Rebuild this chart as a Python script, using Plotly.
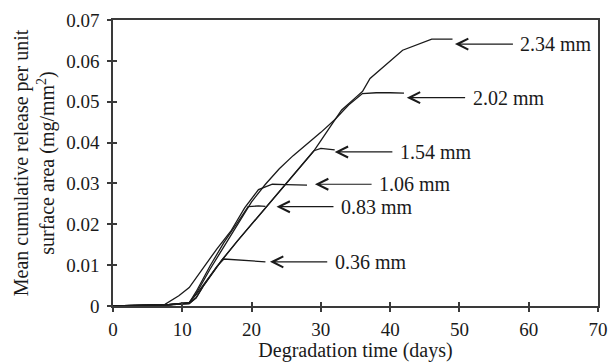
import plotly.graph_objects as go

# ---- data ----
days_036 = [0, 5, 8, 11, 12, 13.5, 15, 16, 19, 22]
rel_036 = [0, 0.0001, 0.0003, 0.0008, 0.0028, 0.0062, 0.0097, 0.0115, 0.0112, 0.0108]

days_083 = [0, 5, 8, 11, 12, 14, 16, 18, 19.5, 21, 22]
rel_083 = [0, 0.0001, 0.0003, 0.0008, 0.0035, 0.0098, 0.0155, 0.0205, 0.0243, 0.0245, 0.0244]

days_106 = [0, 5, 7.5, 9.5, 11, 13, 15, 17, 19, 21, 23, 25, 28]
rel_106 = [0, 0.0001, 0.0004, 0.0025, 0.0045, 0.0092, 0.0140, 0.0183, 0.0240, 0.0285, 0.0298, 0.0297, 0.0296]

days_154 = [0, 5, 8, 11, 12, 13, 15.7, 18, 20, 23, 25.3, 27, 29, 30, 32]
rel_154 = [0, 0.0001, 0.0003, 0.0006, 0.0020, 0.0048, 0.0112, 0.0160, 0.0200, 0.0262, 0.0308, 0.0342, 0.0380, 0.0386, 0.0382]

days_202 = [0, 5, 8, 11, 12, 14, 16, 18, 20, 22, 24, 26, 28, 30, 32, 34, 36, 38, 40, 42]
rel_202 = [0, 0.0001, 0.0003, 0.0008, 0.0030, 0.0090, 0.0145, 0.0200, 0.0255, 0.0298, 0.0336, 0.0368,
           0.0396, 0.0425, 0.0456, 0.0492, 0.0520, 0.0522, 0.0522, 0.0521]

days_234 = [0, 5, 8, 11, 12, 13, 15.7, 18, 20, 23, 25.3, 27, 29, 31, 33, 35, 36, 37.1, 41.8, 46, 49]
rel_234 = [0, 0.0001, 0.0003, 0.0006, 0.0020, 0.0048, 0.0112, 0.0160, 0.0200, 0.0262, 0.0308, 0.0342,
           0.0380, 0.0430, 0.0480, 0.0510, 0.0525, 0.0557, 0.0626, 0.0653, 0.0653]

labels = ["0.36 mm", "0.83 mm", "1.06 mm", "1.54 mm", "2.02 mm", "2.34 mm"]

series = [
    (days_036, rel_036),
    (days_083, rel_083),
    (days_106, rel_106),
    (days_154, rel_154),
    (days_202, rel_202),
    (days_234, rel_234),
]

# label placement: (arrow tip x, text centre x, y)
label_pos = [
    (22.65, 37.2, 0.0108),
    (23.6, 38.1, 0.0243),
    (29.15, 43.6, 0.0298),
    (32.0, 46.6, 0.0377),
    (42.4, 57.1, 0.0510),
    (49.35, 64.0, 0.0641),
]

FONT = "Liberation Serif"
INK = "#1a1a1a"
AXC = "#3a3a3a"

fig = go.Figure()
for (xs, ys), name in zip(series, labels):
    fig.add_trace(go.Scatter(x=xs, y=ys, mode="lines", name=name,
                             line=dict(color=INK, width=1.3), showlegend=False))

# dummy trace for overlay axes (inside half of crossing ticks)
fig.add_trace(go.Scatter(x=[], y=[], xaxis="x2", yaxis="y2", showlegend=False))

for (tipx, tx, y), name in zip(label_pos, labels):
    fig.add_annotation(x=tipx, y=y, ax=tx, ay=y, axref="x", ayref="y",
                       xref="x", yref="y", text=name, showarrow=True,
                       arrowhead=5, arrowsize=1.8, arrowwidth=1.2, arrowcolor=INK,
                       startstandoff=6,
                       font=dict(family=FONT, size=20, color=INK))

fig.update_layout(
    width=611, height=362,
    margin=dict(l=113, r=13, t=20, b=56, autoexpand=False),
    paper_bgcolor="white", plot_bgcolor="white",
    font=dict(family=FONT, size=19, color=INK),
    xaxis=dict(range=[0, 70], dtick=10, showgrid=False, zeroline=False,
               showline=True, mirror=True, linecolor=AXC, linewidth=1.5,
               ticks="outside", ticklen=4, tickwidth=1.5, tickcolor=AXC,
               ticklabelstandoff=1, automargin=False,
               tickfont=dict(family=FONT, size=19, color=INK),
               title=dict(text="Degradation time (days)", standoff=9,
                          font=dict(family=FONT, size=20, color=INK))),
    yaxis=dict(range=[0, 0.07], dtick=0.01, showgrid=False, zeroline=False,
               showline=True, mirror=True, linecolor=AXC, linewidth=1.5,
               ticks="outside", ticklen=4, tickwidth=1.5, tickcolor=AXC,
               ticklabelstandoff=4, automargin=False,
               tickfont=dict(family=FONT, size=19, color=INK),
               title=dict(text="Mean cumulative release per unit<br>surface area (mg/mm<sup>2</sup>)",
                          standoff=6,
                          font=dict(family=FONT, size=20, color=INK))),
    xaxis2=dict(range=[0, 70], dtick=10, overlaying="x", anchor="y2",
                showgrid=False, zeroline=False, showline=False, automargin=False,
                ticks="inside", ticklen=4, tickwidth=1.5, tickcolor=AXC,
                showticklabels=False),
    yaxis2=dict(range=[0, 0.07], dtick=0.01, overlaying="y", anchor="x2",
                showgrid=False, zeroline=False, showline=False, automargin=False,
                ticks="inside", ticklen=4, tickwidth=1.5, tickcolor=AXC,
                showticklabels=False),
)

fig.write_html("out.html")
